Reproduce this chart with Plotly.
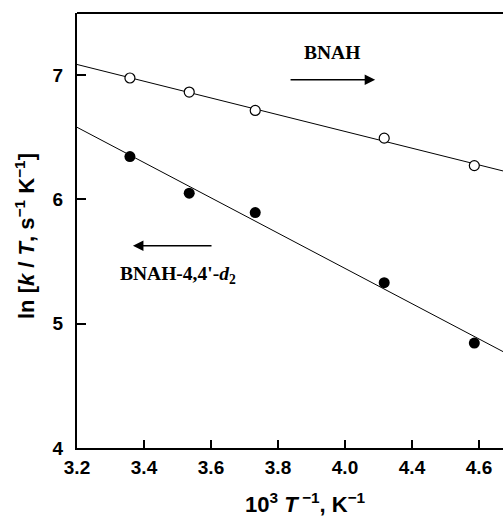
import numpy as np
import plotly.graph_objects as go

# Data
x_bnah = [3.358, 3.535, 3.732, 4.117, 4.386]
y_bnah = [6.977, 6.864, 6.716, 6.493, 6.272]
x_d2 = [3.358, 3.535, 3.732, 4.117, 4.386]
y_d2 = [6.345, 6.050, 5.894, 5.330, 4.844]
tick_vals = [3.2, 3.4, 3.6, 3.8, 4.0, 4.2, 4.4]
tick_text = ["3.2", "3.4", "3.6", "3.8", "4.0", "4.4", "4.6"]
y_ticks = [4, 5, 6, 7]

X_RANGE = [3.2, 4.4716]
Y_RANGE = [4.0, 7.5]

fig = go.Figure()

xs = np.array(X_RANGE)
for xd, yd in [(x_bnah, y_bnah), (x_d2, y_d2)]:
    m, b = np.polyfit(xd, yd, 1)
    fig.add_trace(go.Scatter(x=xs, y=m * xs + b, mode="lines",
                             line=dict(color="black", width=1), showlegend=False,
                             hoverinfo="skip"))

fig.add_trace(go.Scatter(x=x_bnah, y=y_bnah, mode="markers", showlegend=False,
                         marker=dict(symbol="circle", size=10, color="white",
                                     line=dict(color="black", width=1.2))))
fig.add_trace(go.Scatter(x=x_d2, y=y_d2, mode="markers", showlegend=False,
                         marker=dict(symbol="circle", size=11, color="black",
                                     line=dict(color="black", width=0))))

serif = "Liberation Serif, Times New Roman, serif"
sans = "Liberation Sans, Arial, Helvetica, sans-serif"

# text labels
fig.add_annotation(x=3.961, y=7.179, text="<b>BNAH</b>", showarrow=False,
                   font=dict(family=serif, size=19.5, color="black"))
fig.add_annotation(x=3.501, y=5.392, text="<b>BNAH-4,4'-<i>d</i><sub>2</sub></b>",
                   showarrow=False, font=dict(family=serif, size=19.5, color="black"))
# arrows
fig.add_annotation(x=4.090, y=6.963, ax=3.833, ay=6.963, xref="x", yref="y",
                   axref="x", ayref="y", text="", showarrow=True, arrowhead=2,
                   arrowsize=1.4, arrowwidth=1.5, arrowcolor="black")
fig.add_annotation(x=3.367, y=5.628, ax=3.606, ay=5.628, xref="x", yref="y",
                   axref="x", ayref="y", text="", showarrow=True, arrowhead=2,
                   arrowsize=1.4, arrowwidth=1.5, arrowcolor="black")

# axis titles
fig.add_annotation(xref="paper", yref="paper", x=(305 - 77) / 426, y=-(503 - 448) / 435,
                   text="<b>10<sup>3</sup> <i>T</i><sup> −1</sup>, K<sup>−1</sup></b>",
                   showarrow=False, font=dict(family=sans, size=22, color="black"),
                   yanchor="middle", xanchor="center")
fig.add_annotation(xref="paper", yref="paper", x=-(77 - 25) / 426, y=(448 - 236) / 435,
                   text="<b>ln [<i>k</i> / <i>T</i>, s<sup>−1</sup> K<sup>−1</sup>]</b>",
                   showarrow=False, textangle=-90,
                   font=dict(family=sans, size=22, color="black"),
                   yanchor="middle", xanchor="center")

fig.update_xaxes(range=X_RANGE, tickvals=tick_vals, ticktext=tick_text,
                 ticks="inside", ticklen=8, tickwidth=1.5, tickcolor="black",
                 showline=True, linewidth=2, linecolor="black", mirror=False,
                 showgrid=False, zeroline=False, ticklabelstandoff=1,
                 tickfont=dict(family=sans, size=19, color="black", weight="bold"))
fig.update_yaxes(range=Y_RANGE, tickvals=y_ticks, ticktext=[str(v) for v in y_ticks],
                 ticks="inside", ticklen=9, tickwidth=1.5, tickcolor="black",
                 showline=True, linewidth=2, linecolor="black", mirror=False,
                 showgrid=False, zeroline=False, ticklabelstandoff=8,
                 tickfont=dict(family=sans, size=19, color="black", weight="bold"))

# top border
fig.add_shape(type="line", xref="paper", yref="paper", x0=0, x1=1, y0=1, y1=1,
              line=dict(color="black", width=2))

fig.update_layout(width=503, height=516, margin=dict(l=77, r=0, t=13, b=68),
                  paper_bgcolor="white", plot_bgcolor="white", showlegend=False)

fig.write_html("out.html", config={"displayModeBar": False},
               post_script="document.body.style.margin='0';document.body.style.padding='0';")
